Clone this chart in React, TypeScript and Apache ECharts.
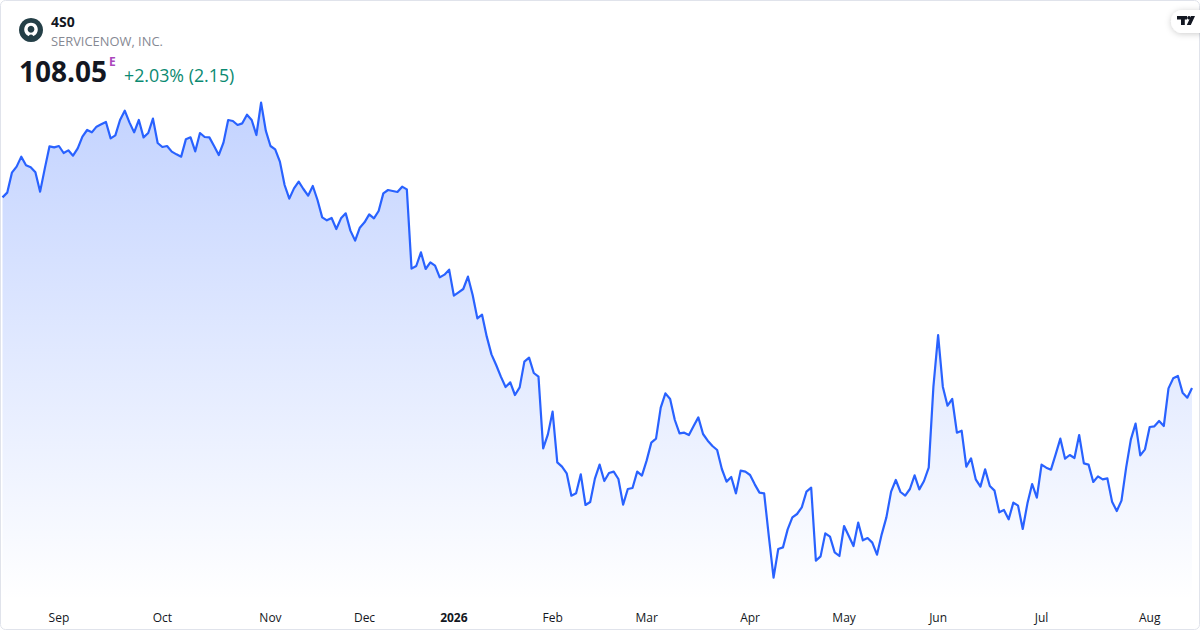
import React, { useEffect, useRef } from "react";
import * as echarts from "echarts";

const symbol = "4S0";
const companyName = "SERVICENOW, INC.";
const lastPrice = "108.05";
const sessionFlag = "E";
const changeText = "+2.03% (2.15)";

const closesA = [
  146.18, 147.12, 151.12, 152.32, 154.32, 152.58, 152.18, 151.18, 147.32, 151.98,
  156.38, 156.18, 156.45, 155.05, 155.58, 154.52, 155.98, 158.32, 159.65, 159.18,
  160.32, 160.78, 161.25, 157.98, 158.58, 161.65, 163.52, 161.18, 159.18, 161.65,
  158.18, 159.05, 161.92, 157.05, 156.25, 156.45, 155.32, 154.78, 154.32, 157.78,
  158.18, 155.38, 159.05, 158.25, 158.18, 156.45, 154.65, 157.12, 161.65, 161.45,
  160.65, 160.98, 162.72, 161.65, 158.65, 165.12, 159.52, 156.45, 155.78, 153.32,
  148.65, 145.92, 147.98, 149.32,
];
const closesB = [
  147.85, 146.52, 148.45, 145.65, 142.18, 141.58, 142.05, 139.85, 141.98, 142.98,
  139.52, 137.52, 140.12, 141.18, 142.78, 141.98, 143.45, 146.98, 147.65, 147.45,
  147.25, 148.32, 147.78, 131.92, 132.45, 135.18, 131.85, 133.18, 132.52, 130.18,
  130.72, 131.72, 126.52, 127.18, 127.85, 130.32, 126.65, 121.98, 122.72, 118.32,
  114.78, 112.65, 110.32,
];
const closesC = [
  108.25, 109.18, 106.65, 108.18, 113.32, 114.12, 111.05, 110.32, 95.98, 98.78,
  103.32, 93.18, 92.32, 90.98, 86.52, 86.98, 90.78, 84.65, 85.25, 89.92,
  92.72, 89.45, 91.05, 91.32, 89.85, 84.72, 87.85, 88.05, 91.32, 90.52,
  93.52, 97.12, 97.92, 104.12, 106.98, 105.85, 101.65, 98.98, 99.12, 98.65,
  100.45, 102.18, 98.85, 97.52, 96.45, 95.65, 91.85, 89.32, 90.25, 86.98,
  91.52, 91.32, 90.65, 88.78, 87.12, 86.98, 78.32, 70.12, 75.85,
];
const closesD = [
  76.18, 79.78, 82.18, 82.85, 84.18, 87.32, 88.12, 73.52, 74.38, 78.98,
  78.32, 75.18, 74.45, 80.45, 78.45, 76.45, 81.12, 77.58, 78.05, 77.12,
  74.72, 78.78, 82.18, 87.32, 89.65, 87.25, 86.52, 87.85, 90.58, 87.78,
  89.45, 92.12, 108.32, 118.65, 108.32, 104.52, 105.85, 99.12, 99.52, 92.32,
  93.98, 89.78, 88.32,
];
const closesE = [
  91.78, 88.45, 87.52, 83.18, 83.65, 81.78, 85.12, 84.52, 79.85, 84.98,
  88.85, 86.12, 92.72, 92.12, 91.72, 94.78, 97.92, 93.92, 94.65, 94.05,
  98.65, 92.98, 92.72, 89.25, 90.38, 89.78, 89.98, 85.32, 83.45, 85.52,
  92.18, 97.78, 100.92, 94.58, 95.78, 100.25, 100.38, 101.45, 100.45, 107.98,
  109.98, 110.45, 107.12, 106.12, 108.05,
];
const closes = [...closesA, ...closesB, ...closesC, ...closesD, ...closesE];

const tickSessions = [12, 34, 57, 77, 96, 117, 137, 159, 179, 199, 221, 244];
const tickLabels = ["Sep", "Oct", "Nov", "Dec", "2026", "Feb", "Mar", "Apr", "May", "Jun", "Jul", "Aug"];
const sessions = closes.map((_, i) => String(i));

const FONT = '"Open Sans", sans-serif';

export default function App() {
  const ref = useRef<HTMLDivElement | null>(null);

  useEffect(() => {
    document.body.style.margin = "0";
    const chart = echarts.init(ref.current!, undefined, { renderer: "svg" });
    chart.setOption({
      animation: false,
      backgroundColor: "#ffffff",
      tooltip: { show: false },
      grid: { left: 2.5, right: 8, top: 0, bottom: 30, containLabel: false },
      xAxis: {
        type: "category",
        data: sessions,
        boundaryGap: false,
        axisLine: { show: false },
        axisTick: { show: false },
        splitLine: { show: false },
        axisLabel: {
          margin: 11,
          fontFamily: FONT,
          fontSize: 12,
          color: "#131722",
          hideOverlap: false,
          interval: (index: number) => tickSessions.includes(index),
          formatter: (_v: string, index: number) => {
            const label = tickLabels[tickSessions.indexOf(index)] ?? "";
            return /^\d+$/.test(label) ? `{year|${label}}` : label;
          },
          rich: {
            year: { fontFamily: FONT, fontSize: 12, fontWeight: 700, color: "#131722" },
          },
        },
      },
      yAxis: {
        type: "value",
        show: false,
        min: 65.65,
        max: 185.65,
        splitLine: { show: false },
      },
      series: [
        {
          type: "line",
          data: closes,
          showSymbol: false,
          smooth: false,
          lineStyle: { color: "#2962ff", width: 2.2, join: "round" },
          itemStyle: { color: "#2962ff" },
          areaStyle: {
            origin: "start",
            opacity: 1,
            color: new echarts.graphic.LinearGradient(0, 0, 0, 1, [
              { offset: 0, color: "rgba(41,98,255,0.28)" },
              { offset: 1, color: "rgba(41,98,255,0)" },
            ]),
          },
        },
      ],
      graphic: [
        {
          type: "rect",
          silent: true,
          z: 10,
          shape: { x: 0.5, y: 0.5, width: 1199, height: 629, r: 5 },
          style: { fill: "none", stroke: "#e0e3eb", lineWidth: 1 },
        },
        { type: "circle", z: 11, shape: { cx: 31, cy: 30, r: 12 }, style: { fill: "#243f47" } },
        { type: "circle", z: 12, shape: { cx: 31, cy: 29.5, r: 6.8 }, style: { fill: "#ffffff" } },
        { type: "circle", z: 13, shape: { cx: 31, cy: 29.3, r: 3.4 }, style: { fill: "#243f47" } },
        { type: "circle", z: 13, shape: { cx: 31, cy: 36.6, r: 2.2 }, style: { fill: "#243f47" } },
        {
          type: "text", z: 12, x: 51, y: 21,
          style: { text: symbol, font: `700 14px ${FONT}`, fill: "#131722", textVerticalAlign: "middle" },
        },
        {
          type: "text", z: 12, x: 51, y: 41,
          style: { text: companyName, font: `400 12.9px ${FONT}`, fill: "#868993", textVerticalAlign: "middle" },
        },
        {
          type: "text", z: 12, x: 19, y: 71,
          style: { text: lastPrice, font: `700 28px ${FONT}`, fill: "#131722", textVerticalAlign: "middle" },
        },
        {
          type: "text", z: 12, x: 109, y: 61,
          style: { text: sessionFlag, font: `700 12px ${FONT}`, fill: "#ab47bc", textVerticalAlign: "middle" },
        },
        {
          type: "text", z: 12, x: 124, y: 75,
          style: { text: changeText, font: `400 17.8px ${FONT}`, fill: "#0b8a72", textVerticalAlign: "middle" },
        },
        {
          type: "rect", z: 20,
          shape: { x: 1171, y: 10, width: 40, height: 23, r: 11.5 },
          style: { fill: "#ffffff", shadowBlur: 6, shadowColor: "rgba(0,0,0,0.2)", shadowOffsetY: 1 },
        },
        {
          type: "polygon", z: 21,
          shape: { points: [[1177, 16], [1187, 16], [1187, 19.6], [1184.8, 19.6], [1184.8, 25], [1181, 25], [1181, 19.6], [1177, 19.6]] },
          style: { fill: "#131722" },
        },
        { type: "circle", z: 21, shape: { cx: 1189, cy: 17.8, r: 1.8 }, style: { fill: "#131722" } },
        {
          type: "polygon", z: 21,
          shape: { points: [[1191, 16], [1195, 16], [1190.8, 25], [1186.8, 25]] },
          style: { fill: "#131722" },
        },
      ],
    });
    return () => chart.dispose();
  }, []);

  return <div ref={ref} style={{ width: 1200, height: 630 }} />;
}
